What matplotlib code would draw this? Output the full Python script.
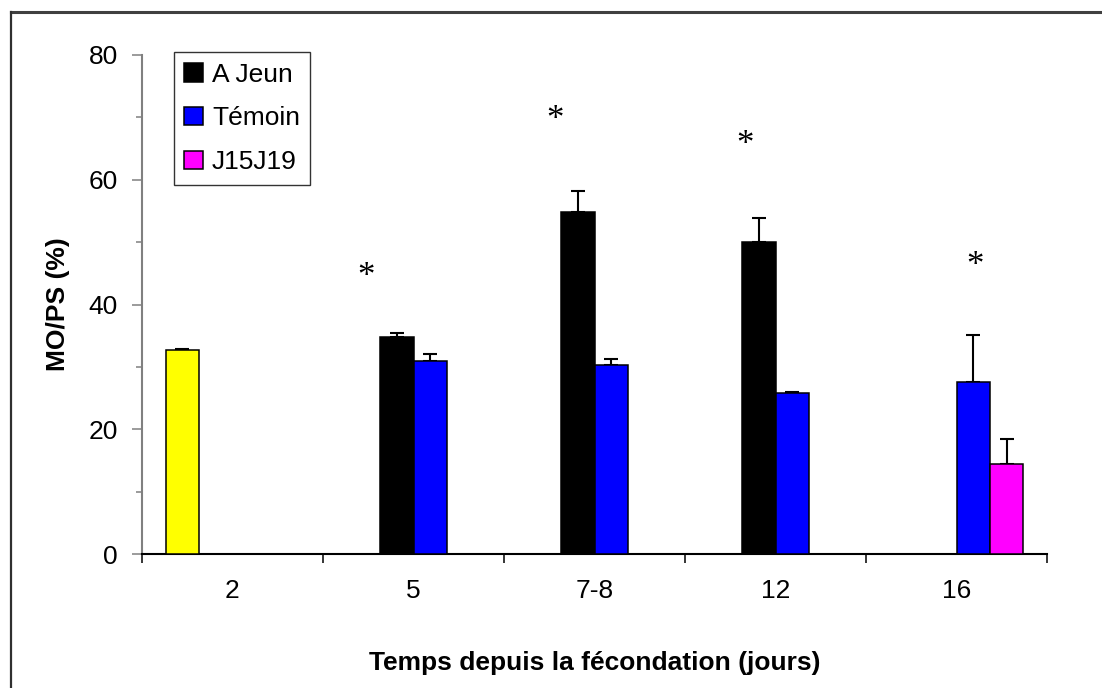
import numpy as np
import matplotlib
matplotlib.use("Agg")
import matplotlib.pyplot as plt
from matplotlib.lines import Line2D

plt.rcParams["font.family"] = ["Liberation Sans", "DejaVu Sans"]

# days after fertilisation (x categories)
categories = ["2", "5", "7-8", "12", "16"]

# MO/PS (%) per group, NaN where the group was not sampled
jour2 = [32.7, np.nan, np.nan, np.nan, np.nan]
jour2_err = [0.1, 0, 0, 0, 0]
a_jeun = [np.nan, 34.85, 54.9, 50.0, np.nan]
a_jeun_err = [0, 0.55, 3.3, 3.9, 0]
temoin = [np.nan, 30.9, 30.3, 25.8, 27.6]
temoin_err = [0, 1.2, 0.9, 0.15, 7.5]
j15j19 = [np.nan, np.nan, np.nan, np.nan, 14.5]
j15j19_err = [0, 0, 0, 0, 3.9]

# significance stars (x in category units, y in %)
star_x = [0.74, 1.78, 2.83, 4.10]
star_y = [44.3, 69.5, 65.5, 46.1]

series = [
    (jour2, jour2_err, "#FFFF00", "_nolegend_"),
    (a_jeun, a_jeun_err, "#000000", "A Jeun"),
    (temoin, temoin_err, "#0000FF", "Témoin"),
    (j15j19, j15j19_err, "#FF00FF", "J15J19"),
]

W, H = 1102, 688
fig = plt.figure(figsize=(W / 100, H / 100), dpi=100)
ax = fig.add_axes([142 / W, 1 - 554 / H, 905 / W, 499 / H])

x = np.arange(len(categories))
bw = 0.185
offsets = (np.arange(len(series)) - (len(series) - 1) / 2) * bw

for (vals, errs, col, lab), off in zip(series, offsets):
    vals = np.asarray(vals, dtype=float)
    errs = np.asarray(errs, dtype=float)
    ax.bar(x + off, vals, width=bw, color=col, edgecolor="black",
           linewidth=1.1, label=lab, zorder=3)
    ok = ~np.isnan(vals)
    ax.errorbar(x[ok] + off, vals[ok], yerr=[np.zeros(ok.sum()), errs[ok]],
                fmt="none", ecolor="black", elinewidth=1.5, capsize=5.3,
                capthick=1.5, zorder=2)

for sx, sy in zip(star_x, star_y):
    ax.text(sx, sy, "*", family="Liberation Serif", fontsize=25,
            ha="center", va="center")

ax.set_xlim(-0.5, len(categories) - 0.5)
ax.set_ylim(0, 80)

# y axis: gray spine, major + minor outward ticks
ax.spines["top"].set_visible(False)
ax.spines["right"].set_visible(False)
ax.spines["left"].set_color("#808080")
ax.spines["left"].set_linewidth(1.5)
ax.spines["bottom"].set_color("black")
ax.spines["bottom"].set_linewidth(1.5)
ax.set_yticks(np.arange(0, 81, 20))
ax.set_yticks(np.arange(10, 80, 20), minor=True)
ax.tick_params(axis="y", which="major", length=7.2, width=1.1,
               color="#808080", labelsize=19, pad=10)
ax.tick_params(axis="y", which="minor", length=4.3, width=1.1,
               color="#808080")

# x axis: ticks between categories, labels at centers
ax.set_xticks(np.arange(-0.5, len(categories), 1.0))
ax.set_xticklabels([])
ax.set_xticks(x, minor=True)
ax.set_xticklabels(categories, minor=True)
ax.tick_params(axis="x", which="major", length=6.5, width=1.1, color="black")
ax.tick_params(axis="x", which="minor", length=0, labelsize=19, pad=18)

ax.set_ylabel("MO/PS (%)", fontsize=19, fontweight="bold")
ax.yaxis.set_label_coords(-0.08, 0.5)
ax.set_xlabel("Temps depuis la fécondation (jours)", fontsize=19,
              fontweight="bold")
ax.xaxis.set_label_coords(0.5, -0.195)

leg = ax.legend(loc="upper left", bbox_to_anchor=(0.035, 1.006),
                fontsize=19, frameon=True, fancybox=False, shadow=False,
                handlelength=0.7, handleheight=0.7, handletextpad=0.35,
                labelspacing=0.75, borderpad=0.4, borderaxespad=0)
leg.get_frame().set_edgecolor("black")
leg.get_frame().set_linewidth(1.0)

# outer chart frame
fig.add_artist(Line2D([11 / W, 1], [1 - 12 / H, 1 - 12 / H],
                      transform=fig.transFigure, color="#404040", lw=2.2))
fig.add_artist(Line2D([11 / W, 11 / W], [0, 1 - 12 / H],
                      transform=fig.transFigure, color="#303030", lw=1.6))

fig.savefig("out.png", dpi=100)
